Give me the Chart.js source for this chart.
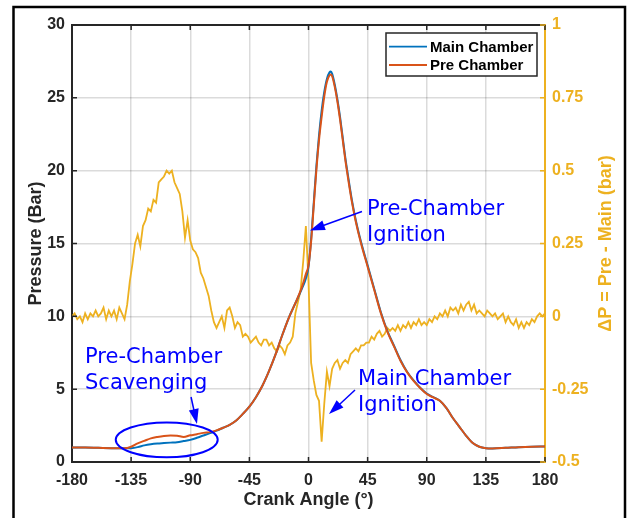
<!DOCTYPE html>
<html lang="en">
  <head>
    <meta charset="UTF-8" />
    <title>Chamber Pressure</title>
    <script src="https://cdn.jsdelivr.net/npm/chart.js"></script>
    <style>
      html,
      body {
        margin: 0;
        padding: 0;
        background: #fff;
      }
      canvas {
        display: block;
      }
    </style>
  </head>
  <body>
    <canvas id="chart-area" width="627" height="518"></canvas>

    <script>
      // crank angle grid of the pressure traces (deg)
      const pressureAngle = [
        -180, -170, -160, -150, -140, -135, -130, -125, -120, -115, -110, -105,
        -100, -95, -90, -85, -80, -75, -70, -65, -60, -55, -50, -45, -40, -35,
        -30, -25, -20, -15, -10, -5, -2, 0, 2, 4, 6, 8, 10, 12, 14, 16, 17, 18,
        20, 22, 24, 26, 28, 30, 33, 36, 40, 45, 50, 55, 60, 65, 70, 75, 80, 85,
        90, 95, 100, 105, 110, 115, 120, 125, 130, 135, 140, 150, 160, 170, 180,
      ];

      // main chamber pressure (bar)
      const mainChamber = [
        1.0, 0.99, 0.97, 0.95, 0.94, 0.95, 1.02, 1.14, 1.22, 1.27, 1.3, 1.33,
        1.36, 1.44, 1.52, 1.66, 1.82, 1.98, 2.15, 2.35, 2.55, 2.85, 3.3, 3.8,
        4.45, 5.25, 6.25, 7.4, 8.7, 9.9, 10.9, 11.9, 12.6, 13.4, 15.3, 17.8,
        20.3, 22.4, 24.1, 25.4, 26.3, 26.75, 26.8, 26.65, 25.9, 24.9, 23.7,
        22.3, 20.9, 19.7, 18.0, 16.6, 15.1, 13.5, 11.9, 10.3, 9.0, 8.0, 7.0,
        6.2, 5.6, 5.1, 4.7, 4.45, 4.2, 3.7, 3.0, 2.4, 1.8, 1.3, 1.05, 0.95,
        0.93, 0.97, 1.02, 1.05, 1.06,
      ];

      // pre chamber pressure (bar)
      const preChamber = [
        1.0, 0.99, 0.97, 0.95, 0.94, 1.05, 1.28, 1.45, 1.62, 1.72, 1.79, 1.82,
        1.8, 1.72, 1.83, 1.91, 2.0, 2.05, 2.17, 2.35, 2.55, 2.85, 3.3, 3.8,
        4.45, 5.25, 6.25, 7.4, 8.7, 9.9, 10.9, 12.0, 12.9, 13.5, 15.15, 17.6,
        20.05, 22.1, 23.7, 25.1, 26.1, 26.55, 26.6, 26.48, 25.75, 24.75, 23.52,
        22.14, 20.75, 19.54, 17.87, 16.49, 15.0, 13.41, 11.82, 10.24, 8.95,
        7.95, 6.95, 6.17, 5.57, 5.08, 4.67, 4.43, 4.2, 3.7, 3.0, 2.4, 1.8, 1.3,
        1.05, 0.95, 0.93, 0.97, 1.02, 1.05, 1.06,
      ];

      // dP = Pre - Main (bar), every 2 deg from -180 to 180
      const dpStart = -180;
      const dpStep = 2;
      const deltaP = [
        0.0, 0.01, -0.01, 0.0, -0.02, 0.01, -0.01, 0.01, 0.0, 0.02,
        0.0, 0.01, 0.03, -0.01, 0.02, 0.0, 0.02, -0.01, 0.03, 0.01,
        -0.01, 0.04, 0.12, 0.18, 0.25, 0.28, 0.24, 0.31, 0.33, 0.37,
        0.36, 0.4, 0.39, 0.46, 0.47, 0.48, 0.5, 0.49, 0.5, 0.46,
        0.44, 0.42, 0.36, 0.27, 0.33, 0.26, 0.23, 0.22, 0.2, 0.15,
        0.13, 0.1, 0.07, 0.02, -0.02, -0.04, -0.02, 0.0, -0.04, 0.02,
        0.03, 0.0, -0.04, -0.02, -0.03, -0.07, -0.06, -0.07, -0.09, -0.08,
        -0.07, -0.09, -0.1, -0.08, -0.08, -0.1, -0.09, -0.11, -0.12, -0.1,
        -0.11, -0.13, -0.1, -0.09, -0.07, 0.01, 0.05, 0.09, 0.19, 0.31,
        0.12, -0.16, -0.22, -0.27, -0.29, -0.43, -0.3, -0.19, -0.24, -0.18,
        -0.16, -0.15, -0.18, -0.16, -0.15, -0.16, -0.13, -0.12, -0.11, -0.12,
        -0.1, -0.1, -0.09, -0.09, -0.07, -0.08, -0.06, -0.05, -0.07, -0.06,
        -0.04, -0.05, -0.04, -0.05, -0.03, -0.05, -0.03, -0.04, -0.02, -0.04,
        -0.02, -0.03, -0.01, -0.03, -0.02, -0.03, -0.01, -0.02, 0.0, -0.01,
        0.01, 0.0, 0.02, 0.0, 0.03, 0.02, 0.03, 0.01, 0.04, 0.02,
        0.04, 0.05, 0.02, 0.04, 0.01, 0.02, 0.01, 0.0, 0.02, 0.01,
        0.0, 0.01, -0.01, 0.0, 0.01, -0.02, 0.0, -0.02, -0.03, -0.01,
        -0.04, -0.02, -0.04, -0.02, -0.03, -0.01, -0.02, 0.0, 0.01, 0.0,
        0.01,
      ];

      const angleTicks = [-180, -135, -90, -45, 0, 45, 90, 135, 180];
      const pressureTicks = [0, 5, 10, 15, 20, 25, 30];
      const deltaTicks = [-0.5, -0.25, 0, 0.25, 0.5, 0.75, 1];
      const deltaTickLabels = ["-0.5", "-0.25", "0", "0.25", "0.5", "0.75", "1"];

      const seriesNames = ["Main Chamber", "Pre Chamber"];
      const rightTitle = "ΔP = Pre - Main (bar)";

      // annotation texts and their anchors (crank angle, pressure)
      const noteLines = [
        ["Pre-Chamber", "Ignition"],
        ["Main Chamber", "Ignition"],
        ["Pre-Chamber", "Scavenging"],
      ];
      const noteAnchor = [
        [44.5, 16.95],
        [37.7, 5.28],
        [-170.1, 6.79],
      ];
      const arrowFrom = [
        [40.7, 17.2],
        [35.4, 4.94],
        [-89.4, 4.46],
      ];
      const arrowTo = [
        [1.1, 15.9],
        [15.6, 3.29],
        [-84.9, 2.61],
      ];
      // scavenging ellipse: centre and half sizes (deg, bar)
      const ellipseCentre = [-107.9, 1.52];
      const ellipseHalf = [38.8, 1.2];

      const blue = "#0072BD";
      const orange = "#D95319";
      const gold = "#EDB120";
      const noteBlue = "#0000FF";
      const axisColor = "#262626";
      const gridColor = "rgba(0, 0, 0, 0.14)";
      const sansBold = "'Liberation Sans', Arial, Helvetica, sans-serif";

      const toPoints = (xs, ys) => ys.map((y, i) => ({ x: xs[i], y: y }));
      const dpPoints = deltaP.map((v, i) => ({ x: dpStart + i * dpStep, y: v }));

      function drawArrow(c, x0, y0, x1, y1) {
        const a = Math.atan2(y1 - y0, x1 - x0);
        const head = 15;
        const half = 5;
        c.beginPath();
        c.moveTo(x0, y0);
        c.lineTo(x1 - head * 0.8 * Math.cos(a), y1 - head * 0.8 * Math.sin(a));
        c.stroke();
        c.beginPath();
        c.moveTo(x1, y1);
        c.lineTo(
          x1 - head * Math.cos(a) + half * Math.sin(a),
          y1 - head * Math.sin(a) - half * Math.cos(a)
        );
        c.lineTo(
          x1 - head * Math.cos(a) - half * Math.sin(a),
          y1 - head * Math.sin(a) + half * Math.cos(a)
        );
        c.closePath();
        c.fill();
      }

      const decorations = {
        id: "decorations",
        beforeDraw(chart) {
          const c = chart.ctx;
          c.save();
          c.fillStyle = "#fff";
          c.fillRect(0, 0, chart.width, chart.height);
          // outer frame of the figure
          c.strokeStyle = "#000";
          c.lineWidth = 2.5;
          c.beginPath();
          c.moveTo(13.5, chart.height);
          c.lineTo(13.5, 7);
          c.lineTo(625, 7);
          c.lineTo(625, chart.height);
          c.stroke();
          c.restore();
        },
        afterDraw(chart) {
          const c = chart.ctx;
          const area = chart.chartArea;
          const sx = chart.scales.x;
          const sy = chart.scales.y;
          const sy2 = chart.scales.y2;
          c.save();

          // top box line
          c.strokeStyle = axisColor;
          c.lineWidth = 2;
          c.beginPath();
          c.moveTo(area.left - 1, area.top);
          c.lineTo(area.right, area.top);
          c.stroke();

          // inward tick marks
          const tl = 5;
          c.lineWidth = 1.5;
          c.beginPath();
          angleTicks.forEach((v) => {
            const px = sx.getPixelForValue(v);
            c.moveTo(px, area.bottom);
            c.lineTo(px, area.bottom - tl);
            c.moveTo(px, area.top);
            c.lineTo(px, area.top + tl);
          });
          pressureTicks.forEach((v) => {
            const py = sy.getPixelForValue(v);
            c.moveTo(area.left, py);
            c.lineTo(area.left + tl, py);
          });
          c.stroke();
          c.strokeStyle = gold;
          c.beginPath();
          deltaTicks.forEach((v) => {
            const py = sy2.getPixelForValue(v);
            c.moveTo(area.right, py);
            c.lineTo(area.right - tl, py);
          });
          c.stroke();

          // right axis title, read bottom to top
          c.fillStyle = gold;
          c.font = "bold 18px " + sansBold;
          c.textAlign = "center";
          c.textBaseline = "middle";
          c.translate(606, (area.top + area.bottom) / 2);
          c.rotate(-Math.PI / 2);
          c.fillText(rightTitle, 0, 0);
          c.setTransform(1, 0, 0, 1, 0, 0);

          // legend
          const lw = 151;
          const lh = 43;
          const lx = area.right - 8 - lw;
          const ly = area.top + 8;
          c.fillStyle = "#fff";
          c.fillRect(lx, ly, lw, lh);
          c.strokeStyle = axisColor;
          c.lineWidth = 1.5;
          c.strokeRect(lx, ly, lw, lh);
          c.font = "bold 15px " + sansBold;
          c.textBaseline = "middle";
          c.textAlign = "left";
          [blue, orange].forEach((col, i) => {
            const yy = ly + 13.7 + i * 18.3;
            c.strokeStyle = col;
            c.lineWidth = 1.8;
            c.beginPath();
            c.moveTo(lx + 3, yy);
            c.lineTo(lx + 41, yy);
            c.stroke();
            c.fillStyle = "#000";
            c.fillText(seriesNames[i], lx + 44, yy + 1);
          });

          // annotations
          c.strokeStyle = noteBlue;
          c.fillStyle = noteBlue;
          c.lineWidth = 1.5;
          c.font = "21px 'DejaVu Sans', Verdana, sans-serif";
          c.textBaseline = "alphabetic";
          noteLines.forEach((lines, i) => {
            const tx = sx.getPixelForValue(noteAnchor[i][0]);
            const ty = sy.getPixelForValue(noteAnchor[i][1]);
            lines.forEach((t, k) => c.fillText(t, tx, ty + k * 26));
            drawArrow(
              c,
              sx.getPixelForValue(arrowFrom[i][0]),
              sy.getPixelForValue(arrowFrom[i][1]),
              sx.getPixelForValue(arrowTo[i][0]),
              sy.getPixelForValue(arrowTo[i][1])
            );
          });
          const ex = sx.getPixelForValue(ellipseCentre[0]);
          const ey = sy.getPixelForValue(ellipseCentre[1]);
          const erx = sx.getPixelForValue(ellipseCentre[0] + ellipseHalf[0]) - ex;
          const ery = ey - sy.getPixelForValue(ellipseCentre[1] + ellipseHalf[1]);
          c.lineWidth = 2;
          c.beginPath();
          c.ellipse(ex, ey, erx, ery, 0, 0, Math.PI * 2);
          c.stroke();

          c.restore();
        },
      };

      const tickFont = { family: sansBold, size: 16, weight: "bold" };
      const titleFont = { family: sansBold, size: 18, weight: "bold" };

      const ctx = document.getElementById("chart-area").getContext("2d");
      new Chart(ctx, {
        type: "line",
        data: {
          datasets: [
            {
              label: seriesNames[0],
              data: toPoints(pressureAngle, mainChamber),
              borderColor: blue,
              borderWidth: 2,
              cubicInterpolationMode: "monotone",
              yAxisID: "y",
              order: 2,
            },
            {
              label: seriesNames[1],
              data: toPoints(pressureAngle, preChamber),
              borderColor: orange,
              borderWidth: 2,
              cubicInterpolationMode: "monotone",
              yAxisID: "y",
              order: 1,
            },
            {
              label: "dP",
              data: dpPoints,
              borderColor: gold,
              borderWidth: 1.8,
              tension: 0,
              yAxisID: "y2",
              order: 3,
            },
          ],
        },
        options: {
          responsive: false,
          animation: false,
          layout: { padding: { top: 25, left: 0, right: 0, bottom: 0 } },
          elements: { point: { radius: 0 } },
          plugins: {
            legend: { display: false },
            tooltip: { enabled: false },
          },
          scales: {
            x: {
              type: "linear",
              min: -180,
              max: 180,
              afterBuildTicks: (s) => {
                s.ticks = angleTicks.map((v) => ({ value: v }));
              },
              afterFit: (s) => {
                s.height = 56;
              },
              grid: { color: gridColor, lineWidth: 1.5, drawTicks: false },
              border: { color: axisColor, width: 2 },
              ticks: {
                color: axisColor,
                font: tickFont,
                padding: 9,
                maxRotation: 0,
                autoSkip: false,
              },
              title: {
                display: true,
                text: "Crank Angle (°)",
                color: axisColor,
                font: titleFont,
                padding: { top: 0, bottom: 7 },
              },
            },
            y: {
              position: "left",
              min: 0,
              max: 30,
              afterBuildTicks: (s) => {
                s.ticks = pressureTicks.map((v) => ({ value: v }));
              },
              afterFit: (s) => {
                s.width = 72;
              },
              grid: { color: gridColor, lineWidth: 1.5, drawTicks: false },
              border: { color: axisColor, width: 2 },
              ticks: { color: axisColor, font: tickFont, padding: 7, autoSkip: false },
              title: {
                display: true,
                text: "Pressure (Bar)",
                color: axisColor,
                font: titleFont,
                padding: { top: 25, bottom: 0 },
              },
            },
            y2: {
              position: "right",
              min: -0.5,
              max: 1,
              afterBuildTicks: (s) => {
                s.ticks = deltaTicks.map((v) => ({ value: v }));
              },
              afterFit: (s) => {
                s.width = 82;
              },
              grid: { drawOnChartArea: false, drawTicks: false },
              border: { color: gold, width: 2 },
              ticks: {
                color: gold,
                font: tickFont,
                padding: 7,
                autoSkip: false,
                callback: (v, i) => deltaTickLabels[i],
              },
              title: { display: false },
            },
          },
        },
        plugins: [decorations],
      });
    </script>
  </body>
</html>
